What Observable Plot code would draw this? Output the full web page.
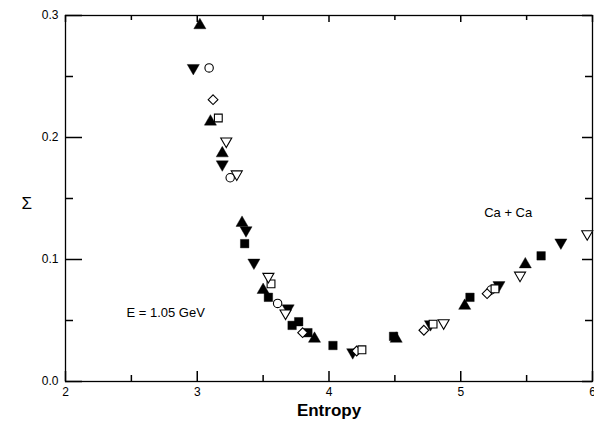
<!DOCTYPE html>
<html>
<head>
<meta charset="utf-8">
<script src="https://cdn.jsdelivr.net/npm/d3@7"></script>
<script src="https://cdn.jsdelivr.net/npm/@observablehq/plot@0.6"></script>
<style>
  html, body { margin: 0; padding: 0; background: #fff; }
</style>
</head>
<body>
<div id="chart"></div>
<script>
// ---- data (entropy, Sigma) per symbol series ----
const filledTriangleUp = [
  [3.02, 0.292], [3.10, 0.213], [3.19, 0.187], [3.34, 0.130], [3.50, 0.075],
  [3.89, 0.035], [4.51, 0.035], [5.03, 0.062], [5.49, 0.096]
];
const filledTriangleDown = [
  [2.97, 0.257], [3.19, 0.178], [3.37, 0.124], [3.43, 0.0975], [3.69, 0.060],
  [4.18, 0.024], [4.77, 0.047], [5.29, 0.079], [5.76, 0.114]
];
const filledSquare = [
  [3.36, 0.113], [3.54, 0.069], [3.72, 0.046], [3.77, 0.049], [3.84, 0.040],
  [4.03, 0.0295], [4.49, 0.037], [5.07, 0.069], [5.61, 0.103]
];
const openCircle = [
  [3.09, 0.257], [3.25, 0.167], [3.61, 0.064], [5.23, 0.075]
];
const openDiamond = [
  [3.12, 0.231], [3.80, 0.040], [4.21, 0.025], [4.72, 0.042], [5.20, 0.072]
];
const openSquare = [
  [3.16, 0.216], [3.56, 0.080], [4.25, 0.026], [4.79, 0.047], [5.26, 0.076]
];
const openTriangleDown = [
  [3.22, 0.197], [3.30, 0.170], [3.54, 0.086], [3.67, 0.056], [4.87, 0.048],
  [5.45, 0.087], [5.96, 0.121]
];

// ---- axes ----
const xDomain = [2, 6];
const yDomain = [0, 0.3];
const xMajor = [2, 3, 4, 5, 6];
const xMinor = [2.5, 3.5, 4.5, 5.5];
const yMajor = [0, 0.1, 0.2, 0.3];
const yMinor = [0.05, 0.15, 0.25];
const xLabel = "Entropy";
const yLabel = "Σ";
const systemLabel = {x: 5.36, y: 0.138, text: "Ca + Ca"};
const energyLabel = {x: 2.76, y: 0.0566, text: "E = 1.05 GeV"};

// ---- layout ----
const W = 594, H = 425;
const mT = 15, mR = 2, mB = 44, mL = 65;
const fw = W - mL - mR, fh = H - mT - mB;
const font = "'Liberation Sans', Arial, Helvetica, sans-serif";
// pixel tick lengths converted to data units
const dyPx = px => px * (yDomain[1] - yDomain[0]) / fh;
const dxPx = px => px * (xDomain[1] - xDomain[0]) / fw;

function dots(data, symbol, r, filled, rotate = 0) {
  return Plot.dot(data, {
    x: d => d[0], y: d => d[1], symbol, r, rotate,
    fill: filled ? "black" : "white",
    stroke: "black",
    strokeWidth: filled ? 0.4 : 1.1
  });
}
function xTicks(vals, len, top) {
  return Plot.ruleX(vals, {
    x: d => d,
    y1: top ? yDomain[1] : yDomain[0],
    y2: top ? yDomain[1] - dyPx(len) : yDomain[0] + dyPx(len),
    stroke: "black", strokeWidth: 1.5
  });
}
function yTicks(vals, len, right) {
  return Plot.ruleY(vals, {
    y: d => d,
    x1: right ? xDomain[1] : xDomain[0],
    x2: right ? xDomain[1] - dxPx(len) : xDomain[0] + dxPx(len),
    stroke: "black", strokeWidth: 1.5
  });
}

const chart = Plot.plot({
  width: W, height: H,
  marginTop: mT, marginRight: mR, marginBottom: mB, marginLeft: mL,
  x: {domain: xDomain, axis: null},
  y: {domain: yDomain, axis: null},
  style: {fontFamily: font, fontSize: "12px", background: "white", color: "black"},
  marks: [
    Plot.frame({stroke: "black", strokeWidth: 1.3}),
    xTicks(xMajor, 10, false),
    xTicks(xMinor, 6, false),
    xTicks(xMajor, 7, true),
    xTicks(xMinor, 5, true),
    yTicks(yMajor, 17, false),
    yTicks(yMinor, 8, false),
    yTicks(yMajor, 10, true),
    yTicks(yMinor, 7, true),
    // tick labels
    Plot.axisX(xMajor, {anchor: "bottom", label: null, tickSize: 0, tickPadding: 6, tickFormat: d => String(d), fontSize: 12}),
    Plot.axisY(yMajor, {anchor: "left", label: null, tickSize: 0, tickPadding: 7, tickFormat: d3.format(".1f"), fontSize: 12}),
    // axis titles
    Plot.text([xLabel], {frameAnchor: "bottom", text: d => d, dy: 34, fontSize: 17, fontWeight: "bold", letterSpacing: 1}),
    Plot.text([yLabel], {frameAnchor: "left", text: d => d, dx: -44, dy: 5, fontSize: 17}),
    // annotations
    Plot.text([systemLabel], {x: "x", y: "y", text: "text", fontSize: 13}),
    Plot.text([energyLabel], {x: "x", y: "y", text: "text", fontSize: 13}),
    // filled symbols
    dots(filledSquare, "square", 4.8, true),
    dots(filledTriangleUp, "triangle", 4.5, true),
    dots(filledTriangleDown, "triangle", 4.5, true, 180),
    // open symbols
    dots(openCircle, "circle", 4.2, false),
    dots(openDiamond, "diamond2", 4.4, false),
    dots(openSquare, "square", 4.4, false),
    dots(openTriangleDown, "triangle", 4.1, false, 180)
  ]
});
document.getElementById("chart").appendChild(chart);
</script>
</body>
</html>
